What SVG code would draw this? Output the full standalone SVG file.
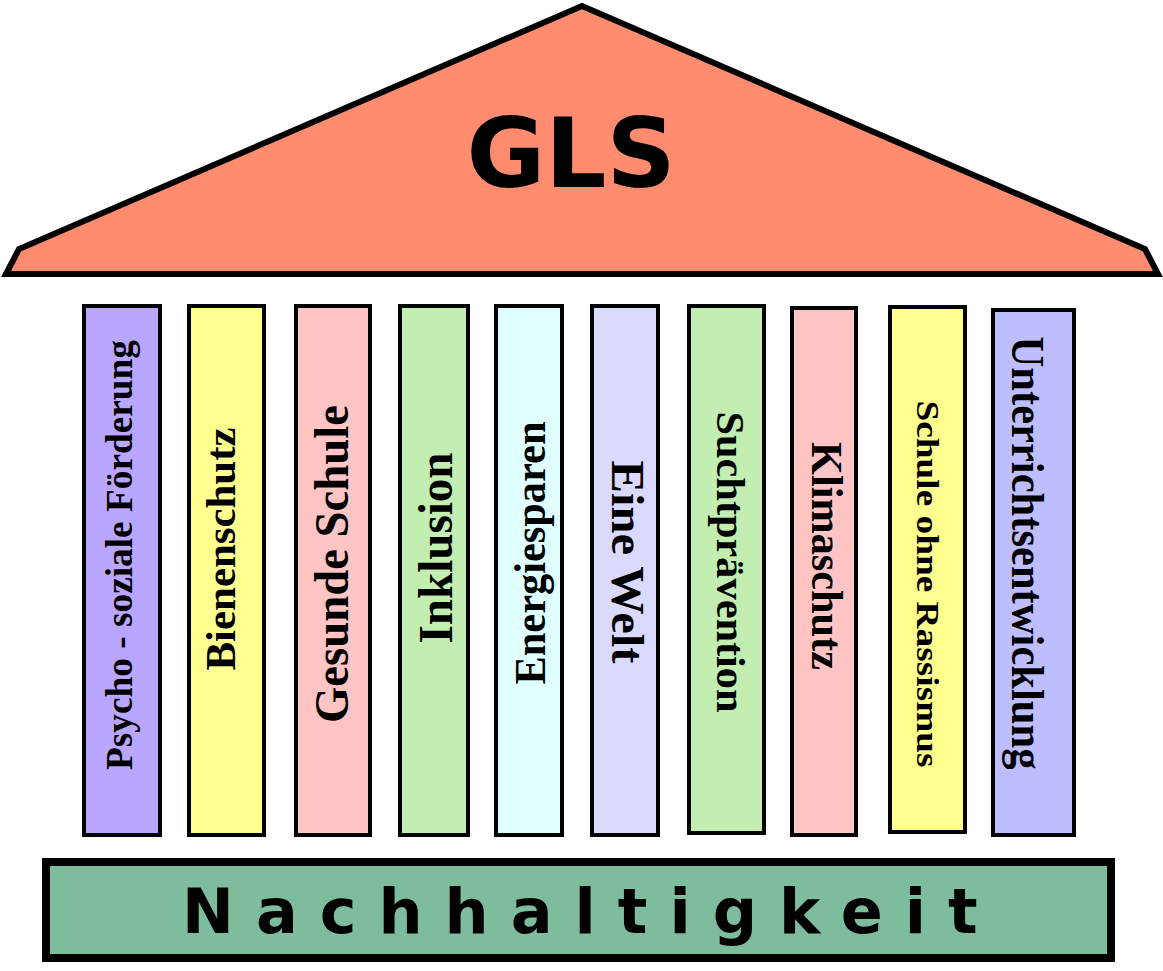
<svg xmlns="http://www.w3.org/2000/svg" width="1163" height="971" viewBox="0 0 1163 971">
<style>
.pillar{stroke:#000;stroke-width:4}
.pt{font-family:"Liberation Serif","Times New Roman",serif;font-weight:bold;fill:#000;text-anchor:middle}
</style>
<rect width="1163" height="971" fill="#fff"/>
<g id="roof">
<polygon points="6,274 19,249 582,6 1145,249 1158,274" fill="#FF8C6E" stroke="#000" stroke-width="6" stroke-linejoin="miter"/>
<text x="571" y="187" font-family="DejaVu Sans, sans-serif" font-weight="bold" font-size="96" text-anchor="middle" fill="#000">GLS</text>
</g>
<g id="p1"><rect class="pillar" x="84" y="306" width="76" height="529" fill="#B8A6FF"/>
<text class="pt" transform="translate(132,555) rotate(-90)" font-size="38" textLength="430" lengthAdjust="spacingAndGlyphs">Psycho - soziale Förderung</text></g>
<g id="p2"><rect class="pillar" x="189" y="306" width="75" height="529" fill="#FFFF8F"/>
<text class="pt" transform="translate(235,549) rotate(-90)" font-size="42" textLength="243" lengthAdjust="spacingAndGlyphs">Bienenschutz</text></g>
<g id="p3"><rect class="pillar" x="296" y="306" width="74" height="529" fill="#FFC5C5"/>
<text class="pt" transform="translate(348,564) rotate(-90)" font-size="48" textLength="318" lengthAdjust="spacingAndGlyphs">Gesunde Schule</text></g>
<g id="p4"><rect class="pillar" x="400" y="306" width="68" height="529" fill="#C2EEB2"/>
<text class="pt" transform="translate(452,548) rotate(-90)" font-size="48" textLength="191" lengthAdjust="spacingAndGlyphs">Inklusion</text></g>
<g id="p5"><rect class="pillar" x="496" y="306" width="66" height="529" fill="#E0FFFF"/>
<text class="pt" transform="translate(545,553) rotate(-90)" font-size="44" textLength="263" lengthAdjust="spacingAndGlyphs">Energiesparen</text></g>
<g id="p6"><rect class="pillar" x="592" y="306" width="66" height="529" fill="#DADAFF"/>
<text class="pt" transform="translate(612,562) rotate(90)" font-size="47" textLength="203" lengthAdjust="spacingAndGlyphs">Eine Welt</text></g>
<g id="p7"><rect class="pillar" x="689" y="306" width="75" height="527" fill="#C2EEB2"/>
<text class="pt" transform="translate(717,562) rotate(90)" font-size="41" textLength="301" lengthAdjust="spacingAndGlyphs">Suchtprävention</text></g>
<g id="p8"><rect class="pillar" x="792" y="308" width="64" height="527" fill="#FFC5C5"/>
<text class="pt" transform="translate(812,556) rotate(90)" font-size="45" textLength="228" lengthAdjust="spacingAndGlyphs">Klimaschutz</text></g>
<g id="p9"><rect class="pillar" x="890" y="307" width="75" height="525" fill="#FFFF8F"/>
<text class="pt" transform="translate(917,584) rotate(90)" font-size="32" textLength="367" lengthAdjust="spacingAndGlyphs">Schule ohne Rassismus</text></g>
<g id="p10"><rect class="pillar" x="993" y="310" width="81" height="525" fill="#BEBEFF"/>
<text class="pt" transform="translate(1012,553) rotate(90)" font-size="46" textLength="433" lengthAdjust="spacingAndGlyphs">Unterrichtsentwicklung</text></g>
<g id="base"><rect x="46" y="862" width="1065" height="96" fill="#7DBD9D" stroke="#000" stroke-width="8"/>
<text x="182" y="933" font-family="DejaVu Sans, sans-serif" font-weight="bold" font-size="62" letter-spacing="22" fill="#000">Nachhaltigkeit</text></g>
<g id="connectors"></g>
</svg>
